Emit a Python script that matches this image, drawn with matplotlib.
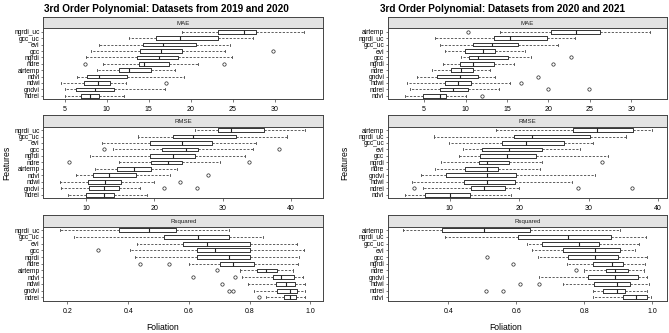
import matplotlib
matplotlib.use('Agg')
import matplotlib.pyplot as plt

plt.rcParams['font.family'] = ['Liberation Sans', 'DejaVu Sans']
plt.rcParams['lines.scale_dashes'] = False

W, H = 669, 333

# ---------------- Datasets from 2019 and 2020 ----------------
feat_a = ['ngrdi_uc', 'gcc_uc', 'evi', 'gcc', 'ngrdi', 'ndre',
          'airtemp', 'ndvi', 'ndwi', 'gndvi', 'ndrei']

# (lower whisker, q1, median, q3, upper whisker)
mae_a = [(19.0, 23.2, 26.3, 27.8, 33.5), (12.7, 15.9, 18.7, 23.2, 27.4),
         (9.1, 14.3, 16.7, 20.6, 24.6), (8.1, 14.0, 16.4, 18.9, 24.0),
         (7.6, 13.6, 16.2, 18.5, 24.9), (9.6, 13.9, 14.4, 17.4, 20.9),
         (8.8, 11.5, 12.7, 15.3, 18.1), (6.5, 7.7, 9.1, 12.4, 19.2),
         (4.6, 7.3, 9.0, 10.4, 12.3), (5.0, 6.4, 8.6, 10.9, 16.9),
         (5.0, 7.0, 8.0, 9.1, 12.1)]
mae_a_out = [[], [], [], [29.8], [], [7.4, 23.9], [], [], [17.1], [], []]

rmse_a = [(25.9, 29.4, 31.2, 36.0, 42.0), (17.6, 22.8, 25.7, 32.0, 39.4),
          (12.4, 19.4, 24.1, 28.5, 34.9), (14.0, 21.1, 24.6, 26.4, 34.5),
          (10.6, 19.4, 22.8, 25.9, 33.3), (14.9, 19.5, 22.0, 24.0, 29.7),
          (11.3, 14.6, 17.1, 19.5, 23.3), (8.5, 11.0, 13.4, 17.3, 22.3),
          (6.2, 10.3, 12.8, 15.1, 19.9), (6.4, 10.5, 12.6, 14.9, 17.9),
          (7.4, 10.0, 12.6, 14.1, 18.9)]
rmse_a_out = [[], [], [], [12.6, 38.3], [], [7.6, 33.9], [], [27.8], [23.8],
              [21.4, 26.3], []]

rsq_a = [(0.174, 0.371, 0.469, 0.558, 0.733), (0.222, 0.518, 0.631, 0.733, 0.843),
         (0.430, 0.580, 0.661, 0.802, 0.955), (0.406, 0.626, 0.686, 0.802, 0.979),
         (0.423, 0.626, 0.733, 0.802, 0.964), (0.602, 0.701, 0.747, 0.815, 0.961),
         (0.769, 0.826, 0.854, 0.891, 0.942), (0.774, 0.876, 0.902, 0.946, 0.975),
         (0.796, 0.887, 0.920, 0.950, 0.982), (0.815, 0.889, 0.933, 0.957, 0.982),
         (0.854, 0.913, 0.933, 0.953, 0.982)]
rsq_a_out = [[], [], [], [0.302], [], [0.439, 0.536], [0.692], [0.613, 0.752],
             [0.708], [0.733, 0.747], [0.832]]

# ---------------- Datasets from 2020 and 2021 ----------------
feat_b = ['airtemp', 'ngrdi_uc', 'gcc_uc', 'evi', 'gcc', 'ngrdi', 'ndre',
          'gndvi', 'ndwi', 'ndrei', 'ndvi']

mae_b = [(14.2, 20.3, 23.3, 26.2, 32.3), (6.3, 13.4, 15.4, 19.8, 23.2),
         (6.9, 10.9, 13.2, 16.3, 21.2), (7.5, 9.9, 12.1, 13.6, 17.2),
         (9.5, 10.4, 11.5, 15.1, 17.9), (7.3, 9.3, 10.9, 13.4, 15.9),
         (5.9, 8.3, 9.5, 10.9, 13.0), (4.1, 6.6, 9.3, 11.5, 13.6),
         (3.0, 7.5, 9.1, 10.7, 15.4), (3.3, 6.9, 8.5, 10.3, 14.0),
         (2.7, 4.9, 6.9, 7.7, 10.1)]
mae_b_out = [[10.3], [], [], [], [22.7], [20.5], [], [18.8], [16.7],
             [19.9, 24.9], [12.0]]

rmse_b = [(16.6, 27.7, 31.2, 36.4, 39.1), (7.7, 19.3, 21.9, 30.2, 35.4),
          (9.9, 17.5, 21.0, 26.5, 30.6), (11.9, 14.7, 18.6, 23.3, 28.7),
          (11.4, 14.3, 18.2, 22.4, 32.8), (8.8, 14.2, 15.3, 18.6, 23.3),
          (7.9, 12.2, 15.4, 16.9, 23.0), (5.9, 9.5, 15.4, 19.5, 30.9),
          (4.5, 12.0, 15.4, 19.4, 27.6), (6.1, 13.1, 14.9, 18.0, 20.0),
          (3.6, 6.4, 10.0, 12.9, 18.8)]
rmse_b_out = [[], [], [], [], [], [32.0], [], [], [], [4.9, 28.5, 36.3], []]

rsq_b = [(0.267, 0.382, 0.505, 0.640, 0.904), (0.390, 0.605, 0.752, 0.877, 0.981),
         (0.630, 0.674, 0.785, 0.844, 0.961), (0.645, 0.736, 0.831, 0.906, 0.949),
         (0.664, 0.752, 0.831, 0.900, 0.985), (0.750, 0.826, 0.880, 0.914, 0.978),
         (0.800, 0.863, 0.890, 0.929, 0.975), (0.665, 0.811, 0.890, 0.958, 0.985),
         (0.736, 0.828, 0.895, 0.934, 0.991), (0.824, 0.855, 0.895, 0.919, 0.983),
         (0.826, 0.914, 0.953, 0.985, 0.995)]
rsq_b_out = [[], [], [], [], [0.512], [0.591], [0.775], [], [0.610, 0.665],
             [0.509, 0.561], []]


def frac(x0, y0, x1, y1):
    # pixel box (top-left origin) -> figure fraction rect
    return [x0 / W, 1 - y1 / H, (x1 - x0) / W, (y1 - y0) / H]


def panel(fig, x0, x1, ys, name, feats, stats, outs, xlim, ticks, ticklabels):
    s_top, p_top, p_bot = ys
    strip = fig.add_axes(frac(x0, s_top, x1, p_top))
    strip.set_facecolor('#e3e3e3')
    strip.set_xticks([])
    strip.set_yticks([])
    for sp in strip.spines.values():
        sp.set_color('#444444')
        sp.set_linewidth(0.7)
    strip.text(0.5, 0.45, name, ha='center', va='center', fontsize=4.4,
               color='#222222', transform=strip.transAxes)

    ax = fig.add_axes(frac(x0, p_top, x1, p_bot))
    n = len(feats)
    pos = list(range(n, 0, -1))
    bstats = []
    for (lo, q1, md, q3, hi), fl in zip(stats, outs):
        bstats.append(dict(whislo=lo, q1=q1, med=md, q3=q3, whishi=hi, fliers=fl))
    ax.bxp(bstats, positions=pos, orientation='horizontal', widths=0.58,
           capwidths=0.32, patch_artist=False,
           boxprops=dict(color='#333333', linewidth=0.7),
           medianprops=dict(color='#222222', linewidth=0.8),
           whiskerprops=dict(color='#444444', linewidth=0.6,
                             linestyle=(0, (1.6, 1.1))),
           capprops=dict(color='#444444', linewidth=0.6),
           flierprops=dict(marker='o', markerfacecolor='none',
                           markeredgecolor='#222222', markersize=2.4,
                           markeredgewidth=0.5))
    ax.set_xlim(*xlim)
    ax.set_ylim(0.45, n + 0.55)
    ax.set_yticks(pos)
    ax.set_yticklabels(feats, fontsize=4.8)
    ax.set_xticks(ticks)
    ax.set_xticklabels(ticklabels, fontsize=5.0)
    ax.tick_params(axis='x', length=2.2, width=0.5, pad=2.5, color='#444444')
    ax.tick_params(axis='y', length=1.5, width=0.5, pad=1.2, color='#444444')
    for sp in ax.spines.values():
        sp.set_color('#444444')
        sp.set_linewidth(0.7)
    return ax


fig = plt.figure(figsize=(W / 100, H / 100), dpi=100)

rows = [(17.3, 28.3, 99.3), (115.0, 126.5, 198.3), (214.5, 226.5, 301.0)]

mae_ticks = [5, 10, 15, 20, 25, 30]
rmse_ticks = [10, 20, 30, 40]
rsq_ticks_a = [0.2, 0.4, 0.6, 0.8, 1.0]
rsq_ticks_b = [0.4, 0.6, 0.8, 1.0]

# left block
lx0, lx1 = 43.5, 323
panel(fig, lx0, lx1, rows[0], 'MAE', feat_a, mae_a, mae_a_out, (2.5, 35.7),
      mae_ticks, [str(t) for t in mae_ticks])
panel(fig, lx0, lx1, rows[1], 'RMSE', feat_a, rmse_a, rmse_a_out, (3.8, 44.7),
      rmse_ticks, [str(t) for t in rmse_ticks])
panel(fig, lx0, lx1, rows[2], 'Rsquared', feat_a, rsq_a, rsq_a_out, (0.121, 1.042),
      rsq_ticks_a, ['%.1f' % t for t in rsq_ticks_a])

# right block
rx0, rx1 = 388, 667
panel(fig, rx0, rx1, rows[0], 'MAE', feat_b, mae_b, mae_b_out, (0.65, 34.3),
      mae_ticks, [str(t) for t in mae_ticks])
panel(fig, rx0, rx1, rows[1], 'RMSE', feat_b, rmse_b, rmse_b_out, (1.1, 41.3),
      rmse_ticks, [str(t) for t in rmse_ticks])
panel(fig, rx0, rx1, rows[2], 'Rsquared', feat_b, rsq_b, rsq_b_out, (0.222, 1.043),
      rsq_ticks_b, ['%.1f' % t for t in rsq_ticks_b])

# titles and axis labels
fig.text(166 / W, 1 - 8.5 / H, '3rd Order Polynomial: Datasets from 2019 and 2020',
         ha='center', va='center', fontsize=7.2, fontweight='bold')
fig.text(503 / W, 1 - 8.5 / H, '3rd Order Polynomial: Datasets from 2020 and 2021',
         ha='center', va='center', fontsize=7.2, fontweight='bold')
fig.text(163 / W, 1 - 328 / H, 'Foliation', ha='center', va='center', fontsize=6.2)
fig.text(506 / W, 1 - 328 / H, 'Foliation', ha='center', va='center', fontsize=6.2)
fig.text(6.5 / W, 1 - 163 / H, 'Features', ha='center', va='center', fontsize=6.2,
         rotation=90)
fig.text(345 / W, 1 - 163 / H, 'Features', ha='center', va='center', fontsize=6.2,
         rotation=90)

fig.savefig('out.png', dpi=100)
